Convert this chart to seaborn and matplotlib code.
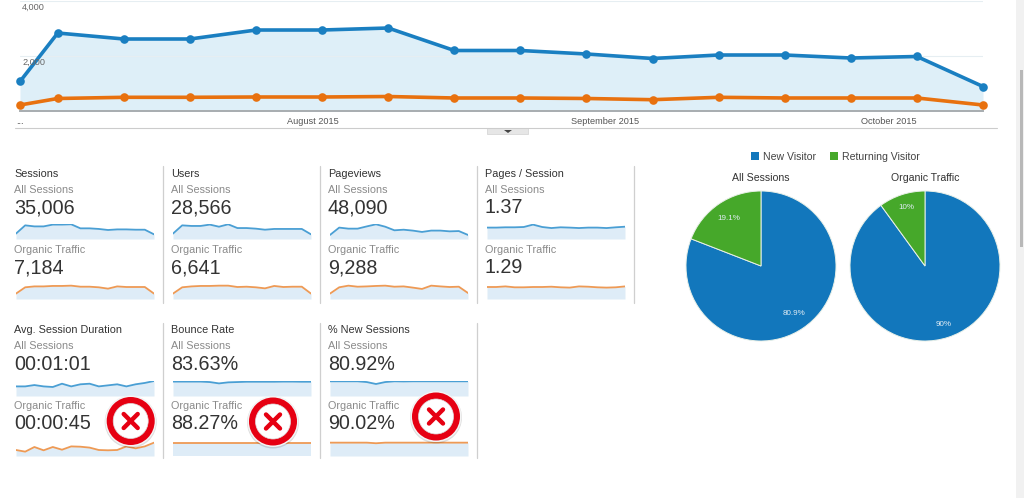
import pandas as pd
import seaborn as sns
import matplotlib.pyplot as plt
import matplotlib.dates as mdates
from matplotlib.patches import Circle, Rectangle

W, H = 1024, 498
BLUE = "#1a7fc1"
ORANGE = "#e8710f"
FILL = "#deeff8"
SPARK_BLUE = "#4a9fd4"
SPARK_ORANGE = "#ee9a55"
SPARK_FILL = "#deecf7"
PIE_BLUE = "#1277bc"
PIE_GREEN = "#46a82a"

# main chart, weekly
dates = ["2015-07-01", "2015-07-05", "2015-07-12", "2015-07-19", "2015-07-26", "2015-08-02",
         "2015-08-09", "2015-08-16", "2015-08-23", "2015-08-30", "2015-09-06", "2015-09-13",
         "2015-09-20", "2015-09-27", "2015-10-04", "2015-10-11"]
all_sessions = [1073, 2836, 2618, 2618, 2945, 2945, 3018, 2200, 2200, 2073, 1909, 2036, 2036, 1927, 1982, 890]
organic = [218, 455, 498, 498, 509, 509, 527, 473, 473, 455, 411, 498, 473, 473, 473, 218]
month_ticks = ["2015-07-01", "2015-08-01", "2015-09-01", "2015-10-01"]
month_labels = ["...", "August 2015", "September 2015", "October 2015"]
y_ticks = [2000, 4000]
y_labels = ["2,000", "4,000"]

# sparklines, read as % of the band height
sessions_all = [36, 91, 84, 84, 96, 96, 98, 71, 71, 67, 60, 64, 64, 62, 62, 31]
sessions_org = [36, 78, 84, 84, 87, 87, 89, 82, 82, 78, 69, 84, 80, 80, 80, 36]
users_all = [36, 91, 87, 87, 96, 82, 98, 73, 73, 69, 62, 67, 67, 67, 67, 31]
users_org = [36, 78, 84, 87, 87, 89, 89, 80, 82, 78, 71, 87, 80, 82, 82, 36]
pageviews_all = [27, 76, 69, 69, 84, 98, 82, 58, 62, 56, 47, 56, 56, 51, 53, 27]
pageviews_org = [36, 78, 89, 82, 84, 87, 89, 82, 84, 76, 67, 89, 84, 80, 82, 40]
pages_all = [76, 76, 78, 78, 80, 96, 80, 73, 78, 76, 73, 76, 76, 73, 78, 82]
pages_org = [80, 80, 84, 78, 78, 80, 80, 82, 78, 76, 84, 82, 78, 76, 78, 84]
duration_all = [64, 64, 73, 64, 60, 82, 64, 78, 82, 64, 71, 78, 64, 78, 87, 100]
duration_org = [40, 29, 60, 38, 60, 42, 64, 62, 56, 40, 38, 40, 64, 51, 64, 89]
bounce_all = [96, 96, 96, 96, 93, 84, 91, 93, 95, 95, 95, 95, 96, 96, 95, 95]
bounce_org = [87, 87, 87, 87, 87, 87, 87, 87, 87, 87, 87, 87, 87, 87, 87, 87]
new_all = [98, 98, 98, 98, 93, 80, 93, 98, 97, 98, 98, 98, 98, 98, 98, 98]
new_org = [89, 89, 89, 89, 89, 85, 89, 89, 89, 89, 89, 89, 89, 89, 89, 89]

# name, all sessions value, organic value, sparkline lists, column, row
metrics = [
    ("Sessions", "35,006", "7,184", sessions_all, sessions_org, 0, 0),
    ("Users", "28,566", "6,641", users_all, users_org, 1, 0),
    ("Pageviews", "48,090", "9,288", pageviews_all, pageviews_org, 2, 0),
    ("Pages / Session", "1.37", "1.29", pages_all, pages_org, 3, 0),
    ("Avg. Session Duration", "00:01:01", "00:00:45", duration_all, duration_org, 0, 1),
    ("Bounce Rate", "83.63%", "88.27%", bounce_all, bounce_org, 1, 1),
    ("% New Sessions", "80.92%", "90.02%", new_all, new_org, 2, 1),
]

# pies
pie_labels = ["New Visitor", "Returning Visitor"]
pie_all = [80.9, 19.1]
pie_org = [90, 10]
pie_all_text = ["80.9%", "19.1%"]
pie_org_text = ["90%", "10%"]

sns.set_theme(style="white")
plt.rcParams["font.family"] = ["Liberation Sans", "DejaVu Sans"]

fig = plt.figure(figsize=(W / 100, H / 100), dpi=100)


def px_axes(x0, y0, x1, y1, **kw):
    # axes placed with image pixel coordinates
    return fig.add_axes([x0 / W, 1 - y1 / H, (x1 - x0) / W, (y1 - y0) / H], **kw)


df = pd.DataFrame({"date": pd.to_datetime(dates), "all": all_sessions, "organic": organic})

# main chart
ax = px_axes(20, 1, 983, 111)
ax.fill_between(df["date"], df["all"], color=FILL, lw=0)
sns.lineplot(data=df, x="date", y="all", ax=ax, color=BLUE, lw=2.6, marker="o", ms=6.2, mew=0, clip_on=False, zorder=5)
sns.lineplot(data=df, x="date", y="organic", ax=ax, color=ORANGE, lw=2.6, marker="o", ms=6.2, mew=0, clip_on=False, zorder=5)
ax.set_xlim(df["date"].iloc[0], df["date"].iloc[-1])
ax.set_ylim(0, 4000)
ax.set_xlabel("")
ax.set_ylabel("")
ax.set_yticks(y_ticks)
ax.set_yticklabels([])
ax.set_xticks(mdates.date2num(pd.to_datetime(month_ticks)))
ax.set_xticklabels(month_labels, fontsize=6.6, color="#555555")
ax.tick_params(axis="x", length=0, pad=4)
ax.tick_params(axis="y", length=0)
ax.grid(axis="y", color="#e6eef2", lw=0.8)
ax.set_axisbelow(False)
sns.despine(ax=ax, left=True, right=True, top=True)
ax.spines["bottom"].set_color("#a8adb0")
ax.spines["bottom"].set_linewidth(1.4)

# sparklines, evenly spaced points
col_x = [16, 173, 330, 487]
row_top = [(224, 284), (381, 441)]
for name, val_all, val_org, s_all, s_org, c, r in metrics:
    for k, (vals, line_col) in enumerate([(s_all, SPARK_BLUE), (s_org, SPARK_ORANGE)]):
        top = row_top[r][k]
        sp = px_axes(col_x[c], top, col_x[c] + 138, top + 15)
        sp_df = pd.DataFrame({"week": range(len(vals)), "v": vals})
        sp.fill_between(sp_df["week"], sp_df["v"], color=SPARK_FILL, lw=0)
        sns.lineplot(data=sp_df, x="week", y="v", ax=sp, color=line_col, lw=1.3)
        sp.set_xlim(0, len(vals) - 1)
        sp.set_ylim(0, 100)
        sp.axis("off")

# pies
for values, pie_text, cx, dist in [(pie_all, pie_all_text, 761, 0.77), (pie_org, pie_org_text, 925, 0.82)]:
    pa = px_axes(cx - 76, 190, cx + 76, 342)
    pa.pie(values, colors=[PIE_BLUE, PIE_GREEN], startangle=90, counterclock=False,
           radius=75 / 76, labels=pie_text, labeldistance=dist,
           wedgeprops={"edgecolor": "#e8f0e8", "linewidth": 0.7},
           textprops={"color": "#e0ecf4", "fontsize": 5.8, "ha": "center", "va": "center"})
    pa.set_xlim(-1, 1)
    pa.set_ylim(-1, 1)

# overlay in pixels for the text and the page furniture
ov = fig.add_axes([0, 0, 1, 1], zorder=10)
ov.set_xlim(0, W)
ov.set_ylim(H, 0)
ov.axis("off")
ov.patch.set_alpha(0)

ov.text(22, 7, y_labels[1], fontsize=6.6, color="#666666", va="center")
ov.text(22, 62.5, y_labels[0], fontsize=6.6, color="#666666", va="center")
ov.plot([15, 997], [128, 128], color="#cccccc", lw=0.8)
ov.add_patch(Rectangle((487, 128), 41, 6, fc="#e6e6e6", ec="#d2d2d2", lw=0.5))
ov.fill([504, 512, 508], [130, 130, 133], color="#444444", lw=0)

# scrollbar
ov.add_patch(Rectangle((1016, 0), 8, H, fc="#f1f1f1", lw=0))
ov.add_patch(Rectangle((1020, 70), 3, 177, fc="#b8b8b8", lw=0))

text_x = [14, 171, 328, 485]
text_y = [(173.5, 189.5, 207.5, 249.5, 267.5), (329.5, 346, 364.5, 405.5, 423.5)]
for name, val_all, val_org, s_all, s_org, c, r in metrics:
    ys = text_y[r]
    x = text_x[c]
    ov.text(x, ys[0], name, fontsize=7.8, color="#333333", va="center")
    ov.text(x, ys[1], "All Sessions", fontsize=7.8, color="#8a8a8a", va="center")
    ov.text(x, ys[2], val_all, fontsize=14.2, color="#333333", va="center")
    ov.text(x, ys[3], "Organic Traffic", fontsize=7.8, color="#8a8a8a", va="center")
    ov.text(x, ys[4], val_org, fontsize=14.2, color="#333333", va="center")

# dividers
for x, y0, y1 in [(162.5, 166, 303), (319.5, 166, 303), (477, 166, 303), (634, 166, 303),
                  (162.5, 323, 458), (319.5, 323, 458), (477, 323, 458)]:
    ov.plot([x, x], [y0, y1], color="#cfcfcf", lw=0.9)

# red cross badges
for cx, cy in [(130.7, 421), (273, 421.5), (436, 416.5)]:
    ov.add_patch(Circle((cx, cy + 1), 26, fc="#00000022", lw=0))
    ov.add_patch(Circle((cx, cy), 25.5, fc="#f4f4f4", lw=0))
    ov.add_patch(Circle((cx, cy), 24, fc="#e60012", lw=0))
    ov.add_patch(Circle((cx, cy), 17.5, fc="white", ec="#dddddd", lw=0.5))
    ov.plot([cx - 7, cx + 7], [cy - 7, cy + 7], color="#e60012", lw=3.2, solid_capstyle="round")
    ov.plot([cx - 7, cx + 7], [cy + 7, cy - 7], color="#e60012", lw=3.2, solid_capstyle="round")

# pie legend and titles
ov.add_patch(Rectangle((751, 152), 8, 8, fc=PIE_BLUE, lw=0))
ov.text(763, 156.5, pie_labels[0], fontsize=7.6, color="#444444", va="center")
ov.add_patch(Rectangle((830, 152), 8, 8, fc=PIE_GREEN, lw=0))
ov.text(842, 156.5, pie_labels[1], fontsize=7.6, color="#444444", va="center")
ov.text(761, 177.5, "All Sessions", fontsize=7.6, color="#333333", ha="center", va="center")
ov.text(925, 177.5, "Organic Traffic", fontsize=7.6, color="#333333", ha="center", va="center")

fig.savefig("out.png", dpi=100)
